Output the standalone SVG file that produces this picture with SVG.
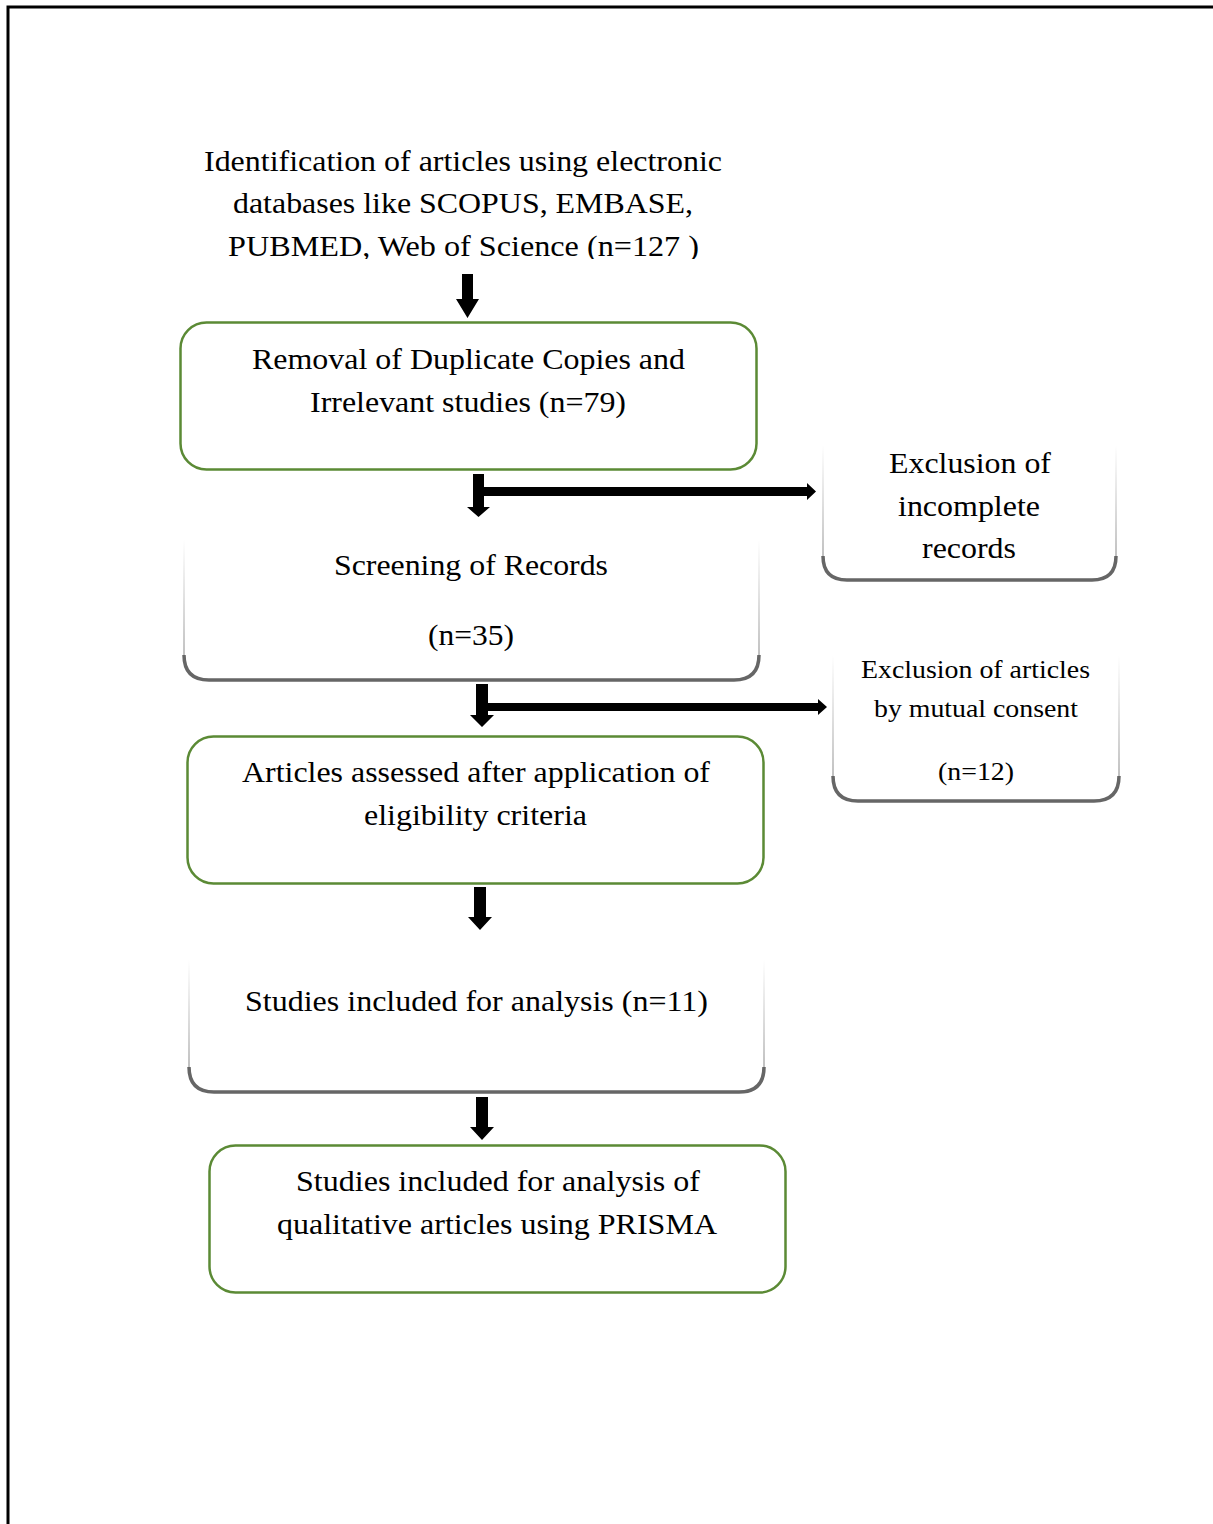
<svg xmlns="http://www.w3.org/2000/svg" width="1213" height="1524" viewBox="0 0 1213 1524">
<style>
  text { font-family: "Liberation Serif", "Times New Roman", serif; fill: #000; text-anchor: middle; }
  .t28 { font-size: 29px; }
  .t25 { font-size: 25px; }
  .green { fill: #fff; stroke: #5b8a35; stroke-width: 2.5; }
  .side { fill: none; stroke: url(#sideGrad); stroke-width: 1.5; }
  .bot { fill: none; stroke: #666; stroke-width: 3.5; }
  .shaft { fill: #000; }
</style>
<defs>
  <linearGradient id="sideGrad" x1="0" y1="0" x2="0" y2="1">
    <stop offset="0" stop-color="#fff"/>
    <stop offset="0.3" stop-color="#e6e6e6"/>
    <stop offset="1" stop-color="#aaa"/>
  </linearGradient>
  <clipPath id="clipTop"><rect x="150" y="130" width="650" height="129"/></clipPath>
</defs>
<rect x="0" y="0" width="1213" height="1524" fill="#fff"/>
<g id="page-border" fill="none" stroke="#000" stroke-width="3">
  <path d="M8,1524 L8,7 L1213,7"/>
</g>

<g id="connectors">
  <path class="shaft" d="M462,274 L473,274 L473,299 L479,299 L467.5,318 L456,299 L462,299 Z"/>
  <path class="shaft" d="M473,474 L484,474 L484,507 L490,507 L478.5,517 L467,507 L473,507 Z"/>
  <path class="shaft" d="M484,487 L807,487 L807,483 L816,491.5 L807,500 L807,496 L484,496 Z"/>
  <path class="shaft" d="M476,684 L488,684 L488,715 L494,715 L482,727 L470,715 L476,715 Z"/>
  <path class="shaft" d="M488,703 L818,703 L818,699 L827,707 L818,715 L818,711 L488,711 Z"/>
  <path class="shaft" d="M474,887 L486,887 L486,917 L492,917 L480,930 L468,917 L474,917 Z"/>
  <path class="shaft" d="M476,1097 L488,1097 L488,1127 L494,1127 L482,1140 L470,1127 L476,1127 Z"/>
</g>

<g id="n-identification" clip-path="url(#clipTop)">
  <text class="t28" x="463" y="171" textLength="518" lengthAdjust="spacingAndGlyphs">Identification of articles using electronic</text>
  <text class="t28" x="463" y="213" textLength="460" lengthAdjust="spacingAndGlyphs">databases like SCOPUS, EMBASE,</text>
  <text class="t28" x="463.5" y="256" textLength="471" lengthAdjust="spacingAndGlyphs">PUBMED, Web of Science (n=127 )</text>
</g>

<g id="n-removal">
  <rect class="green" x="180.5" y="322.5" width="576" height="147" rx="26"/>
  <text class="t28" x="468.5" y="369" textLength="433" lengthAdjust="spacingAndGlyphs">Removal of Duplicate Copies and</text>
  <text class="t28" x="468" y="412" textLength="316" lengthAdjust="spacingAndGlyphs">Irrelevant studies (n=79)</text>
</g>

<g id="n-screening">
  <path class="side" d="M184,540 L184,660 M759,540 L759,660"/>
  <path class="bot" d="M184,655 Q184,680 209,680 L734,680 Q759,680 759,655"/>
  <text class="t28" x="471" y="575" textLength="274" lengthAdjust="spacingAndGlyphs">Screening of Records</text>
  <text class="t28" x="471" y="645" textLength="86" lengthAdjust="spacingAndGlyphs">(n=35)</text>
</g>

<g id="n-excl-incomplete">
  <path class="side" d="M823,445 L823,560 M1116,445 L1116,560"/>
  <path class="bot" d="M823,556 Q823,580 847,580 L1092,580 Q1116,580 1116,556"/>
  <text class="t28" x="970" y="473" textLength="162" lengthAdjust="spacingAndGlyphs">Exclusion of</text>
  <text class="t28" x="969" y="516" textLength="142" lengthAdjust="spacingAndGlyphs">incomplete</text>
  <text class="t28" x="969" y="558" textLength="94" lengthAdjust="spacingAndGlyphs">records</text>
</g>

<g id="n-excl-mutual">
  <path class="side" d="M833,655 L833,780 M1119,655 L1119,780"/>
  <path class="bot" d="M833,776 Q833,801 858,801 L1094,801 Q1119,801 1119,776"/>
  <text class="t25" x="975.5" y="678" textLength="229" lengthAdjust="spacingAndGlyphs">Exclusion of articles</text>
  <text class="t25" x="976" y="717" textLength="204" lengthAdjust="spacingAndGlyphs">by mutual consent</text>
  <text class="t25" x="976" y="780" textLength="76" lengthAdjust="spacingAndGlyphs">(n=12)</text>
</g>

<g id="n-assessed">
  <rect class="green" x="187.5" y="736.5" width="576" height="147" rx="26"/>
  <text class="t28" x="476" y="782" textLength="468" lengthAdjust="spacingAndGlyphs">Articles assessed after application of</text>
  <text class="t28" x="475.5" y="825" textLength="223" lengthAdjust="spacingAndGlyphs">eligibility criteria</text>
</g>

<g id="n-included">
  <path class="side" d="M189,960 L189,1070 M764,960 L764,1070"/>
  <path class="bot" d="M189,1067 Q189,1092 214,1092 L739,1092 Q764,1092 764,1067"/>
  <text class="t28" x="476.5" y="1011" textLength="463" lengthAdjust="spacingAndGlyphs">Studies included for analysis (n=11)</text>
</g>

<g id="n-prisma">
  <rect class="green" x="209.5" y="1145.5" width="576" height="147" rx="26"/>
  <text class="t28" x="498" y="1191" textLength="404" lengthAdjust="spacingAndGlyphs">Studies included for analysis of</text>
  <text class="t28" x="497" y="1234" textLength="440" lengthAdjust="spacingAndGlyphs">qualitative articles using PRISMA</text>
</g>
</svg>
